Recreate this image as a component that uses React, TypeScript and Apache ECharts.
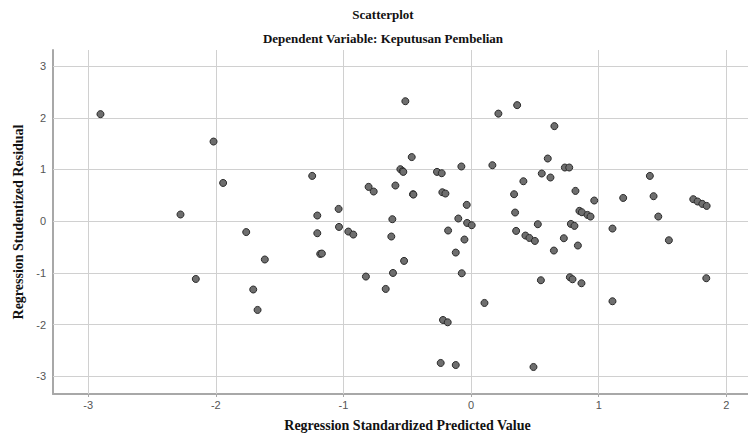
import React, { useEffect, useRef } from "react";
import * as echarts from "echarts";

const titleText = "Scatterplot";
const subtitleText = "Dependent Variable: Keputusan Pembelian";
const xAxisTitle = "Regression Standardized Predicted Value";
const yAxisTitle = "Regression Studentized Residual";

const xTicks = [-3, -2, -1, 0, 1, 2];
const yTicks = [-3, -2, -1, 0, 1, 2, 3];

// Regression Standardized Predicted Value
const predicted = [
  -2.904, -2.018, -1.943, -2.277, -1.762, -2.157, -1.707, -1.673, -1.616, -1.245,
  -1.205, -1.205, -1.182, -1.169, -1.038, -1.035, -0.962, -0.923, -0.824, -0.803,
  -0.763, -0.669, -0.625, -0.617, -0.612, -0.593, -0.554, -0.536, -0.531, -0.525,
  -0.515, -0.465, -0.455, -0.452, -0.267, -0.238, -0.23, -0.225, -0.22, -0.201,
  -0.183, -0.18, -0.12, -0.12, -0.1, -0.076, -0.073, -0.052, -0.034, -0.031,
  0.005, 0.105, 0.167, 0.214, 0.337, 0.345, 0.353, 0.361, 0.41, 0.426,
  0.457, 0.489, 0.5, 0.523, 0.547, 0.554, 0.601, 0.622, 0.649, 0.653,
  0.727, 0.735, 0.769, 0.774, 0.782, 0.795, 0.81, 0.818, 0.837, 0.849,
  0.865, 0.868, 0.912, 0.936, 0.965, 1.108, 1.108, 1.192, 1.401, 1.43,
  1.467, 1.55, 1.741, 1.775, 1.812, 1.846, 1.843,
];

// Regression Studentized Residual
const residual = [
  2.07, 1.54, 0.74, 0.13, -0.21, -1.116, -1.32, -1.715, -0.74, 0.876,
  0.11, -0.232, -0.632, -0.625, 0.238, -0.11, -0.2, -0.258, -1.07, 0.664,
  0.574, -1.309, -0.296, 0.039, -1.0, 0.69, 1.006, 0.967, 0.954, -0.767,
  2.32, 1.24, 0.522, 0.515, 0.954, -2.74, 0.928, 0.56, -1.909, 0.535,
  -1.954, -0.18, -0.606, -2.78, 0.052, 1.058, -1.006, -0.354, 0.316, -0.033,
  -0.077, -1.58, 1.083, 2.08, 0.522, 0.168, -0.187, 2.244, 0.773, -0.277,
  -0.323, -2.818, -0.381, -0.058, -1.141, 0.922, 1.212, 0.845, -0.567, 1.838,
  -0.329, 1.038, 1.038, -1.083, -0.052, -1.122, -0.09, 0.586, -0.47, 0.2,
  -1.199, 0.174, 0.122, 0.09, 0.4, -0.142, -1.547, 0.45, 0.876, 0.484,
  0.09, -0.368, 0.426, 0.381, 0.335, 0.296, -1.102,
];

const X_MIN = -3.276;
const X_MAX = 2.17;
const Y_MIN = -3.34;
const Y_MAX = 3.31;

export default function App() {
  const ref = useRef<HTMLDivElement>(null);

  useEffect(() => {
    if (!ref.current) return;
    const chart = echarts.init(ref.current, undefined, { renderer: "svg" });
    const points = predicted.map((x, i) => [x, residual[i]]);
    const gridLines = [
      ...xTicks.map((v) => ({ xAxis: v })),
      ...yTicks.map((v) => ({ yAxis: v })),
    ];

    chart.setOption({
      animation: false,
      backgroundColor: "#ffffff",
      graphic: [
        {
          type: "text",
          x: 383,
          y: 14,
          style: {
            text: titleText,
            font: "bold 13px 'Liberation Serif'",
            fill: "#111",
            textAlign: "center",
            textVerticalAlign: "middle",
          },
        },
        {
          type: "text",
          x: 383,
          y: 38,
          style: {
            text: subtitleText,
            font: "bold 13px 'Liberation Serif'",
            fill: "#111",
            textAlign: "center",
            textVerticalAlign: "middle",
          },
        },
      ],
      grid: {
        left: 53,
        right: 0,
        top: 50,
        bottom: 42,
        containLabel: false,
        outerBoundsMode: "none",
      },
      xAxis: {
        type: "value",
        min: X_MIN,
        max: X_MAX,
        name: xAxisTitle,
        nameLocation: "middle",
        nameGap: 24,
        nameTextStyle: {
          fontFamily: "Liberation Serif",
          fontWeight: "bold",
          fontSize: 14,
          color: "#111",
          padding: [0, 0, 0, 14],
        },
        axisLine: { show: true, onZero: false, lineStyle: { color: "#a8a8a8", width: 2 } },
        axisTick: {
          show: true,
          length: 3,
          customValues: xTicks,
          lineStyle: { color: "#a8a8a8" },
        },
        axisLabel: {
          customValues: xTicks,
          fontFamily: "Liberation Sans",
          fontSize: 11,
          color: "#555",
          margin: 5,
        },
        splitLine: { show: false },
      },
      yAxis: {
        type: "value",
        min: Y_MIN,
        max: Y_MAX,
        name: yAxisTitle,
        nameLocation: "middle",
        nameGap: 27,
        nameTextStyle: {
          fontFamily: "Liberation Serif",
          fontWeight: "bold",
          fontSize: 14,
          color: "#111",
        },
        axisLine: { show: true, onZero: false, lineStyle: { color: "#a8a8a8", width: 2 } },
        axisTick: {
          show: true,
          inside: true,
          length: 6,
          customValues: yTicks,
          lineStyle: { color: "#a8a8a8" },
        },
        axisLabel: {
          customValues: yTicks,
          fontFamily: "Liberation Sans",
          fontSize: 11,
          color: "#555",
          margin: 7,
        },
        splitLine: { show: false },
      },
      series: [
        {
          type: "line",
          data: [],
          silent: true,
          markLine: {
            silent: true,
            symbol: ["none", "none"],
            label: { show: false },
            lineStyle: { color: "#d0d0d0", type: "solid", width: 1 },
            data: gridLines,
          },
        },
        {
          type: "scatter",
          z: 10,
          data: points,
          symbol: "circle",
          symbolSize: 7,
          itemStyle: {
            color: "#6e6e6e",
            borderColor: "#2a2a2a",
            borderWidth: 1,
            opacity: 1,
          },
        },
      ],
    });

    return () => chart.dispose();
  }, []);

  return (
    <div
      ref={ref}
      style={{ position: "absolute", left: 0, top: 0, width: 748, height: 436 }}
    />
  );
}
